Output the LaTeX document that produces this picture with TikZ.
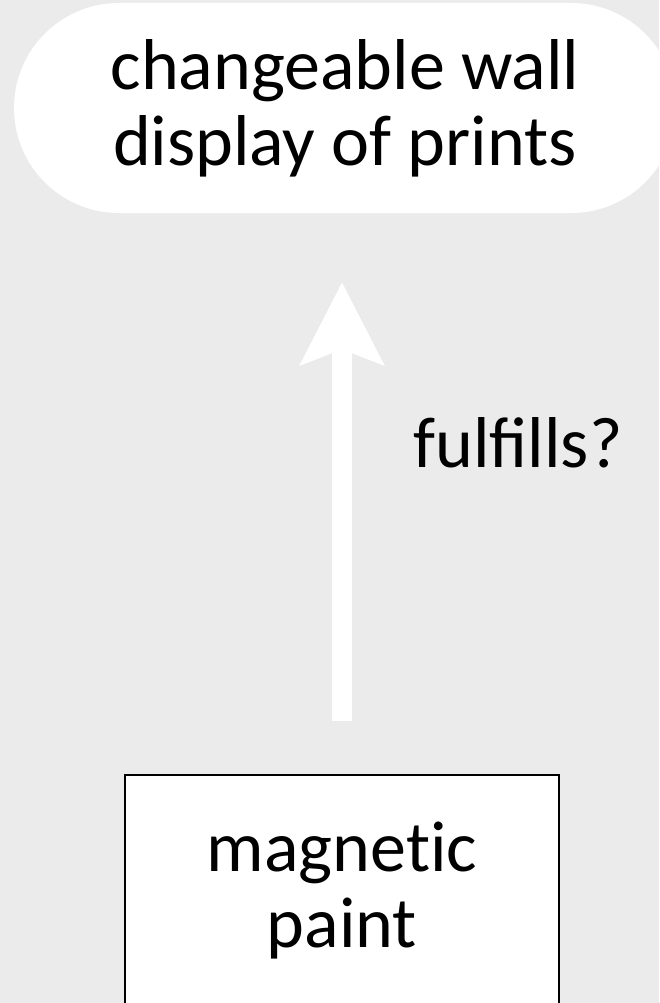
\documentclass[tikz,border=0pt]{standalone}
\usepackage{fontspec}
\setmainfont{Carlito}
\usetikzlibrary{arrows.meta,shapes.misc}
\definecolor{bggray}{HTML}{EBEBEB}
\begin{document}
\begin{tikzpicture}[x=1pt,y=-1pt,
  lbl/.style={font=\fontsize{72}{76}\selectfont, align=center, text=black},
  pill/.style={lbl, rounded rectangle, fill=white, draw=none, minimum height=210pt, minimum width=662pt, inner sep=0pt},
  boxnode/.style={lbl, rectangle, fill=white, draw=black, line width=2pt, minimum height=232pt, minimum width=434pt, inner sep=0pt},
  fulfarrow/.style={white, line width=20pt, -{Stealth[length=82pt, width=82pt, inset=15pt]}}
]
\useasboundingbox (0,0) rectangle (659,1003);
\clip (0,0) rectangle (659,1003);
\fill[bggray] (0,0) rectangle (659,1003);
\node[pill] (goal) at (345,108) {changeable wall\\display of prints};
\node[boxnode] (paint) at (342,891) {magnet\kern0pt ic\\paint};
\coordinate (tip) at (paint.north |- goal.south);
\draw[fulfarrow, shorten <=53pt, shorten >=69pt] (paint.north) -- (tip);
\node[lbl, anchor=base west] (lab) at (410,467) {fulfills?};
\end{tikzpicture}
\end{document}
